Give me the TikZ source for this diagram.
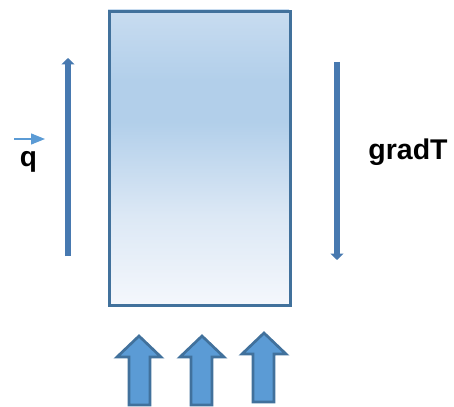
\documentclass[tikz,border=0pt]{standalone}
\usepackage{fontspec}
\setmainfont{Liberation Sans}
\usetikzlibrary{arrows.meta}
\definecolor{boxline}{HTML}{41719C}
\definecolor{arrfill}{HTML}{5B9BD5}
\definecolor{vline}{HTML}{4779B0}
\definecolor{topc}{HTML}{C8DCF0}
\definecolor{midc}{HTML}{B2CFEA}
\definecolor{lowc}{HTML}{DCE8F5}
\definecolor{botc}{HTML}{F4F7FC}
\pgfdeclareverticalshading{bodyshade}{100bp}{color(0bp)=(botc); color(25bp)=(botc); color(40bp)=(lowc); color(56bp)=(midc); color(63bp)=(midc); color(75bp)=(topc); color(100bp)=(topc)}
\tikzset{
  vecarrow/.style={line width=5.5pt, draw=vline, -{Triangle[width=13pt,length=6.5pt]}},
  fatarrow/.style={fill=arrfill, draw=boxline, line width=2.7pt, line join=miter},
  qlbl/.style={font=\bfseries\fontsize{28}{32}\selectfont, inner sep=0pt, anchor=base},
  glbl/.style={font=\bfseries\fontsize{28.5}{32}\selectfont, inner sep=0pt, anchor=base},
}
\begin{document}
\begin{tikzpicture}[x=1pt,y=-1pt]
\useasboundingbox (0,0) rectangle (454,406);
% body
\shade[shading=bodyshade] (108,10) rectangle (289,304);
\node[draw=boxline, line width=2.8pt, minimum width=181pt, minimum height=294pt, inner sep=0pt, anchor=north west] (body) at (108,10) {};
% left vector arrow
\coordinate (lb) at (68,256);
\coordinate (lt) at (68,58);
\draw[vecarrow] (lb) -- (lt);
% right vector arrow
\coordinate (rt) at (337,62);
\coordinate (rb) at (337,260);
\draw[vecarrow] (rt) -- (rb);
% q with small arrow
\node[qlbl] (q) at (28.5,166) {q};
\coordinate (qa) at (14,139);
\coordinate (qb) at (45,139);
\draw[draw=arrfill, line width=1.2pt, -{Triangle[width=11pt,length=14pt]}] (qa) -- (qb);
% gradT
\node[glbl] (gradT) at (408,159) {gradT};
% fat arrows
\draw[fatarrow] (139,336) -- (161,357) -- (150,357) -- (150,405) -- (129,405) -- (129,357) -- (117,357) -- cycle;
\draw[fatarrow] (202,336) -- (224,357) -- (212,357) -- (212,405) -- (191,405) -- (191,357) -- (180,357) -- cycle;
\draw[fatarrow] (264,333) -- (286,354) -- (274,354) -- (274,402) -- (253,402) -- (253,354) -- (242,354) -- cycle;
\end{tikzpicture}
\end{document}
